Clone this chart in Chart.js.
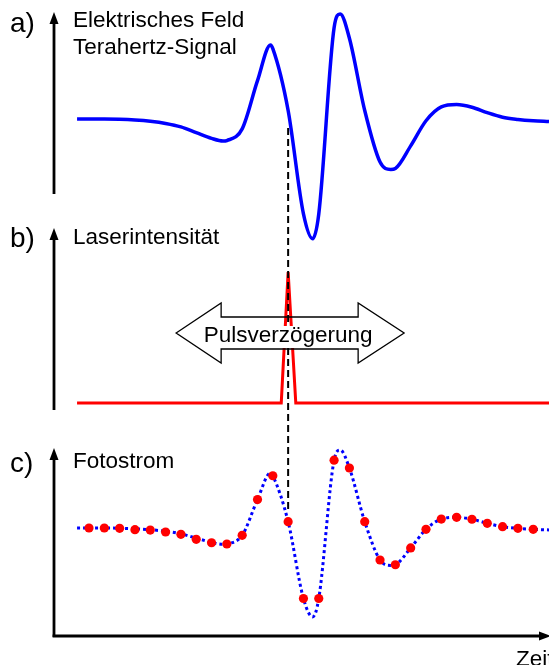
<!DOCTYPE html>
<html lang="de">
<head>
<meta charset="utf-8">
<title>Terahertz-Abtastung</title>
<script src="https://cdn.jsdelivr.net/npm/chart.js@4.4.1/dist/chart.umd.min.js"></script>
<style>
  html, body { margin: 0; padding: 0; background: #fff; }
  #wrap { position: relative; width: 549px; height: 665px; }
</style>
</head>
<body>
<div id="wrap"><canvas id="puls"></canvas></div>
<script>
// Zeit in Abtastschritten (ein Schritt = eine Messung des Fotostroms)
const feldZeit = [-0.78, 0, 1, 2, 3, 4, 5, 6, 7, 8, 8.75, 9, 10, 11, 11.85, 12, 13, 14, 14.6, 15,
  16, 16.4, 17, 18, 19, 19.7, 20, 21, 22, 23, 24, 25, 26, 27, 28, 29, 30.03];
const feldWerte = [0, 0, 0, -0.003, -0.01, -0.022, -0.042, -0.075, -0.13, -0.185, -0.21, -0.205,
  -0.094, 0.365, 0.705, 0.67, 0.081, -0.904, -1.14, -0.904, 0.869, 1.0, 0.769, 0.081, -0.41, -0.48,
  -0.471, -0.256, -0.017, 0.115, 0.137, 0.112, 0.06, 0.017, -0.004, -0.017, -0.025];

const laserZeit = [-0.78, 12.55, 13, 13.5, 30.03];
const laserWerte = [0, 0, 1, 0, 0];

const stromZeit = [0, 1, 2, 3, 4, 5, 6, 7, 8, 9, 10, 11, 12, 13, 14, 15, 16, 17, 18, 19,
  20, 21, 22, 23, 24, 25, 26, 27, 28, 29];
const stromWerte = [0, 0, -0.004, -0.022, -0.026, -0.051, -0.081, -0.145, -0.189, -0.205,
  -0.094, 0.365, 0.670, 0.081, -0.904, -0.904, 0.869, 0.769, 0.081, -0.410,
  -0.471, -0.256, -0.017, 0.115, 0.137, 0.112, 0.060, 0.017, -0.004, -0.017];

const pulsZeit = 13;

const punkte = (xs, ys) => xs.map((x, i) => ({ x: x, y: ys[i] }));
const FONT = '"Liberation Sans", Arial, sans-serif';

function pfeil(ctx, x1, y1, x2, y2) {
  const a = Math.atan2(y2 - y1, x2 - x1);
  const len = 12, half = 4.5;
  ctx.beginPath();
  ctx.moveTo(x1, y1);
  ctx.lineTo(x2 - Math.cos(a) * len * 0.8, y2 - Math.sin(a) * len * 0.8);
  ctx.stroke();
  ctx.beginPath();
  ctx.moveTo(x2, y2);
  ctx.lineTo(x2 - Math.cos(a) * len - Math.sin(a) * half, y2 - Math.sin(a) * len + Math.cos(a) * half);
  ctx.lineTo(x2 - Math.cos(a) * len + Math.sin(a) * half, y2 - Math.sin(a) * len - Math.cos(a) * half);
  ctx.closePath();
  ctx.fill();
}

const beschriftung = {
  id: 'beschriftung',
  beforeDatasetsDraw(chart) {
    const ctx = chart.ctx;
    const left = chart.chartArea.left;
    ctx.save();
    ctx.strokeStyle = '#000';
    ctx.fillStyle = '#000';
    ctx.lineWidth = 2.8;
    pfeil(ctx, left, 194, left, 12);
    pfeil(ctx, left, 410, left, 228);
    pfeil(ctx, left, 637, left, 448);
    pfeil(ctx, left - 1.4, 636, 551, 636);
    ctx.restore();
  },
  afterDatasetsDraw(chart) {
    const ctx = chart.ctx;
    const xp = chart.scales.x.getPixelForValue(pulsZeit);
    ctx.save();

    // gestrichelte Verbindung zwischen den drei Kurven
    ctx.strokeStyle = '#000';
    ctx.lineWidth = 2;
    ctx.setLineDash([7, 4]);
    ctx.beginPath();
    ctx.moveTo(xp, 128);
    ctx.lineTo(xp, 512);
    ctx.stroke();
    ctx.setLineDash([]);

    // Doppelpfeil Pulsverzögerung
    const cx = xp + 2, cy = 333;
    ctx.lineWidth = 1.3;
    ctx.beginPath();
    ctx.moveTo(cx - 114, cy);
    ctx.lineTo(cx - 69, cy - 30);
    ctx.lineTo(cx - 69, cy - 16);
    ctx.lineTo(cx + 68, cy - 16);
    ctx.lineTo(cx + 68, cy - 30);
    ctx.lineTo(cx + 114, cy);
    ctx.lineTo(cx + 68, cy + 30);
    ctx.lineTo(cx + 68, cy + 16);
    ctx.lineTo(cx - 69, cy + 16);
    ctx.lineTo(cx - 69, cy + 30);
    ctx.closePath();
    ctx.stroke();
    ctx.fillStyle = '#fff';
    ctx.fillRect(xp - 87, cy - 7, 174, 22);

    ctx.fillStyle = '#000';
    ctx.textBaseline = 'middle';
    ctx.textAlign = 'center';
    ctx.font = '22.5px ' + FONT;
    ctx.fillText('Pulsverzögerung', xp, cy + 3);

    ctx.textAlign = 'left';
    ctx.fillText('Elektrisches Feld', 73, 21);
    ctx.fillText('Terahertz-Signal', 73, 48);
    ctx.fillText('Laserintensität', 73, 238);
    ctx.fillText('Fotostrom', 73, 462);
    ctx.textBaseline = 'alphabetic';
    ctx.fillText('Zeit', 516, 666);

    ctx.textBaseline = 'middle';
    ctx.font = '28px ' + FONT;
    ctx.fillText('a)', 10, 24);
    ctx.fillText('b)', 10, 239);
    ctx.fillText('c)', 10, 464);
    ctx.restore();
  }
};

new Chart(document.getElementById('puls'), {
  type: 'line',
  data: {
    datasets: [
      {
        data: punkte(feldZeit, feldWerte),
        yAxisID: 'yFeld',
        borderColor: '#0000ff',
        borderWidth: 3.5,
        cubicInterpolationMode: 'monotone',
        pointRadius: 0
      },
      {
        data: punkte(laserZeit, laserWerte),
        yAxisID: 'yLaser',
        borderColor: '#ff0000',
        borderWidth: 3,
        tension: 0,
        pointRadius: 0
      },
      {
        data: punkte(feldZeit, feldWerte),
        yAxisID: 'yStrom',
        borderColor: '#0000ff',
        borderWidth: 3,
        borderDash: [3, 3],
        cubicInterpolationMode: 'monotone',
        pointRadius: 0
      },
      {
        data: punkte(stromZeit, stromWerte),
        yAxisID: 'yStrom',
        order: -1,
        showLine: false,
        pointRadius: 4.6,
        pointBorderWidth: 0,
        pointBackgroundColor: '#ff0000',
        pointBorderColor: '#ff0000'
      }
    ]
  },
  options: {
    responsive: true,
    maintainAspectRatio: false,
    animation: false,
    layout: { autoPadding: false, padding: { left: 54, right: 0, top: 0, bottom: 0 } },
    plugins: { legend: { display: false }, tooltip: { enabled: false } },
    scales: {
      x: { type: 'linear', display: false, min: -2.285, max: 30.03 },
      yFeld: { type: 'linear', display: false, min: -5.2, max: 1.1333 },
      yLaser: { type: 'linear', display: false, min: -2.0, max: 3.0763 },
      yStrom: { type: 'linear', display: false, min: -1.7564, max: 6.7692 }
    }
  },
  plugins: [beschriftung]
});
</script>
</body>
</html>
